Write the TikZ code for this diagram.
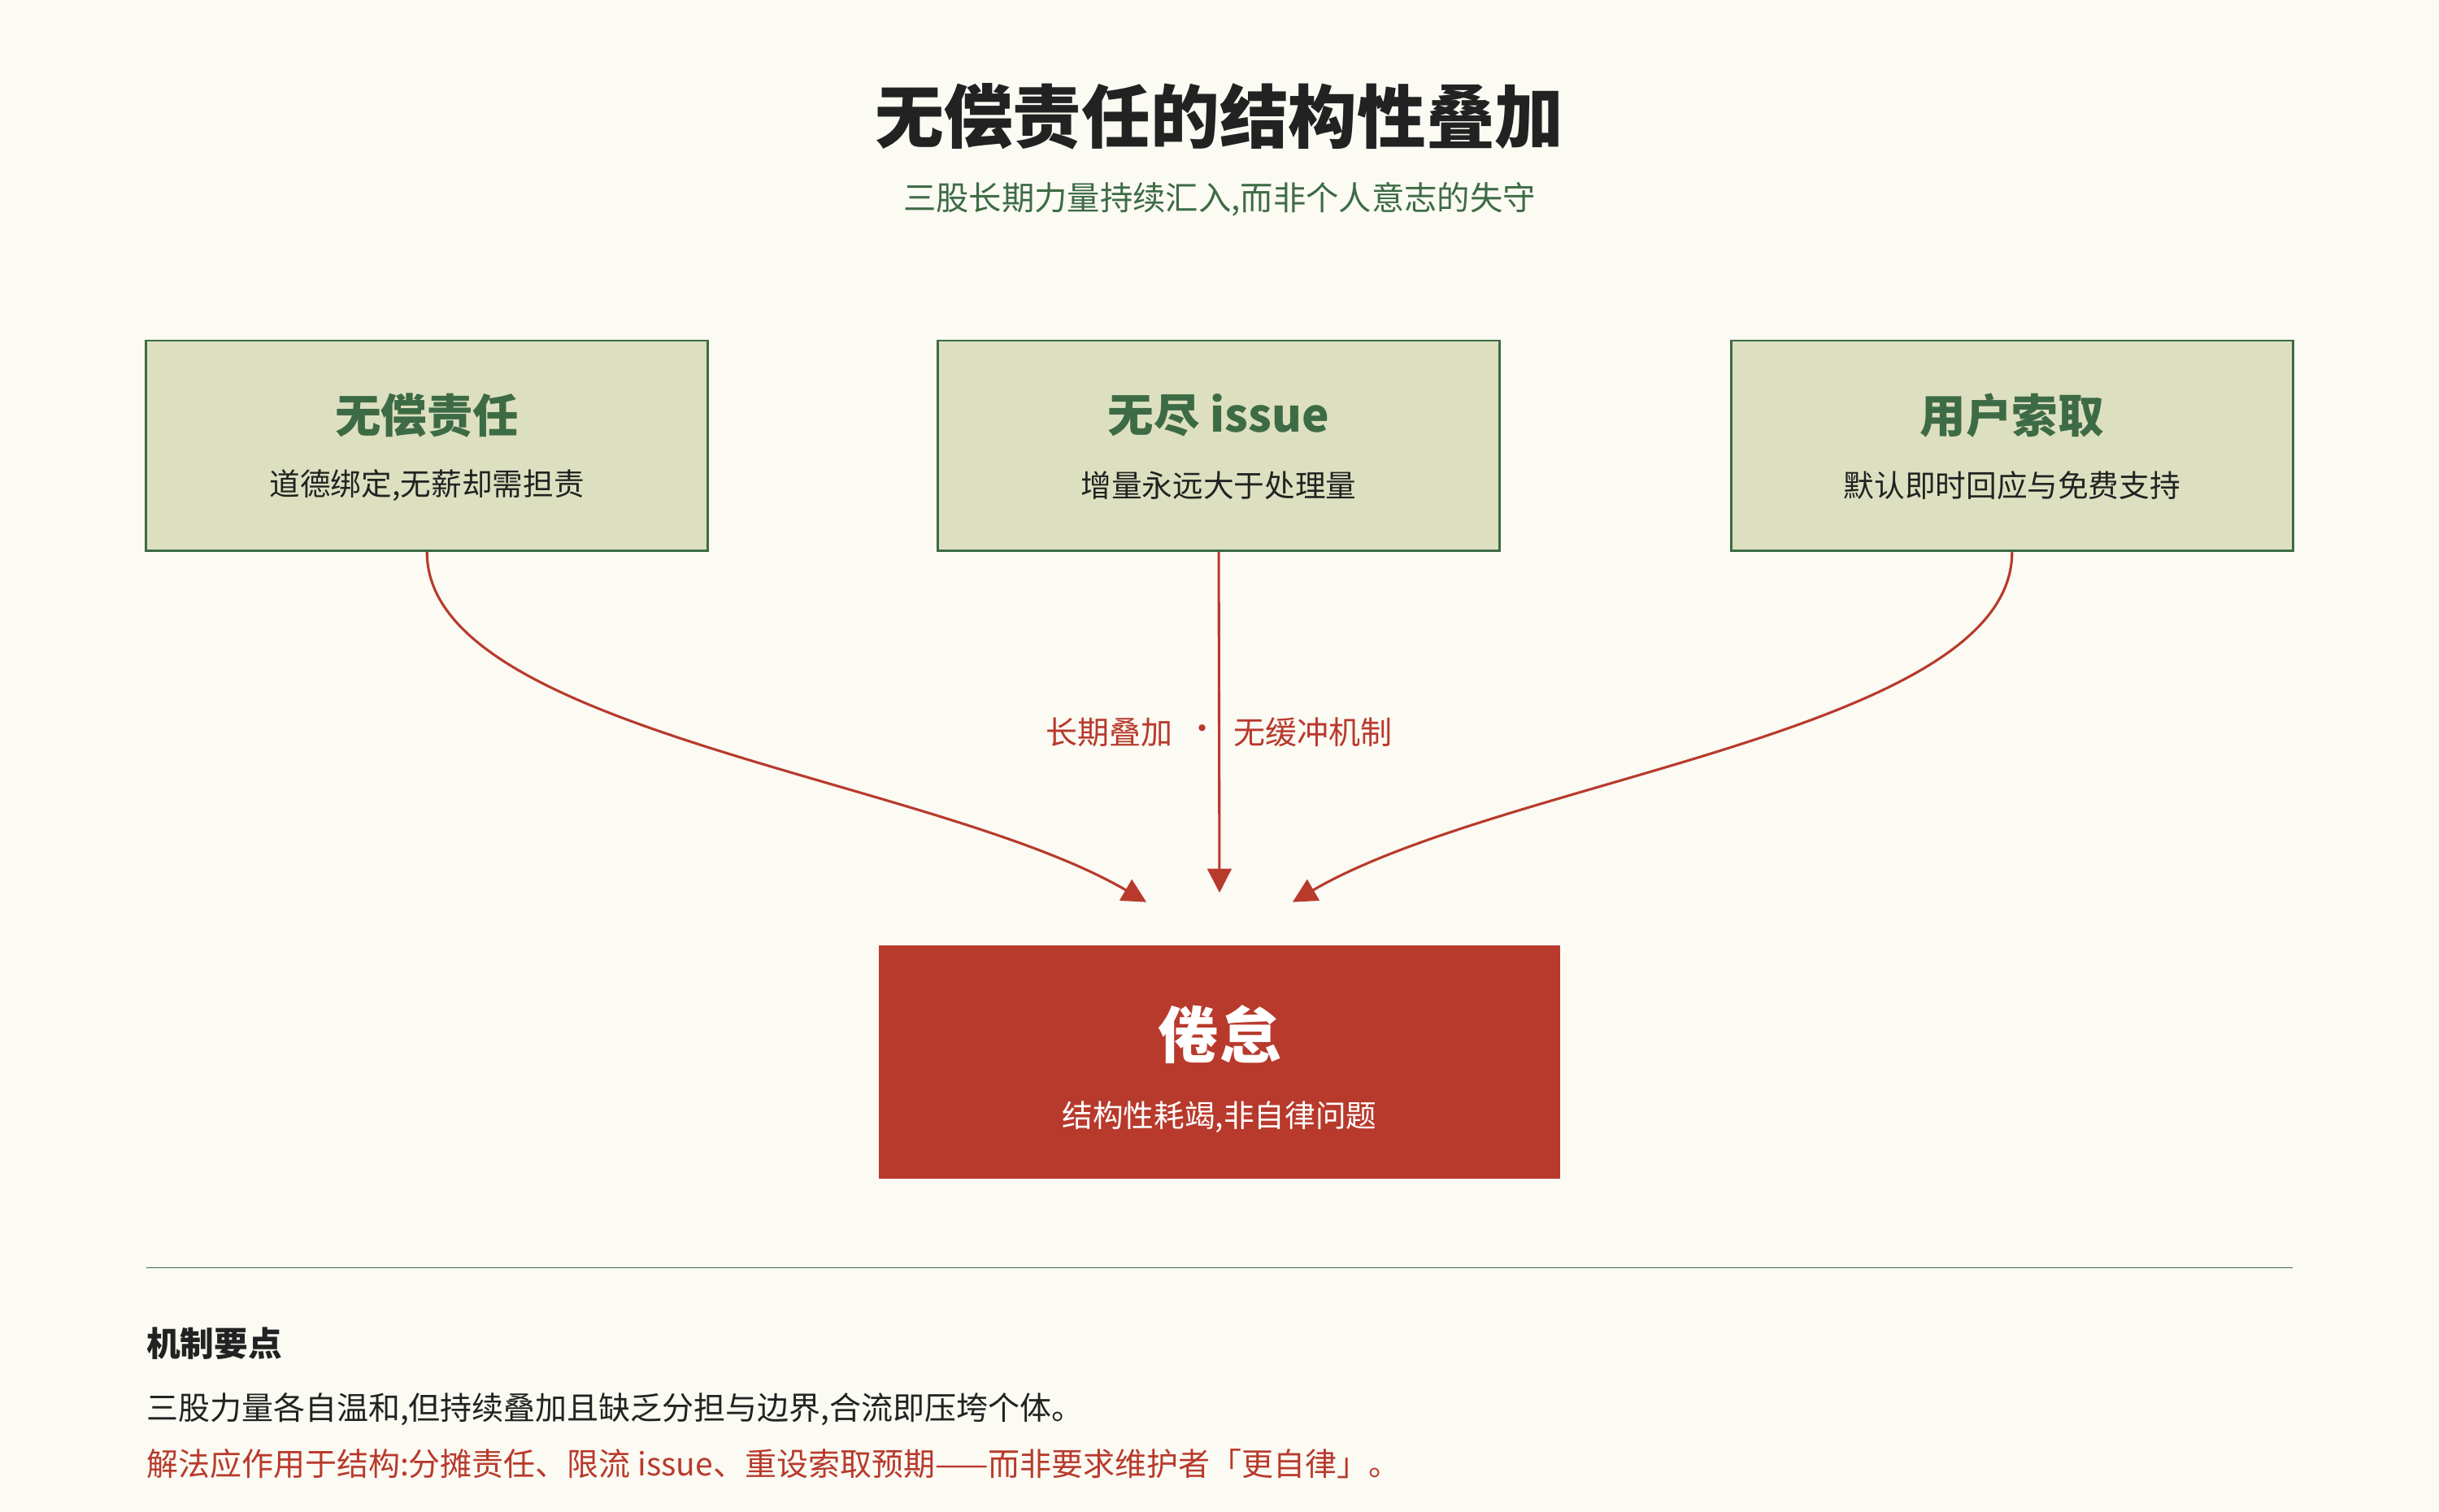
\documentclass[tikz,border=0pt]{standalone}
\usepackage{fontspec}
\setmainfont{Noto Sans CJK SC}
\usetikzlibrary{arrows.meta}
\definecolor{bg}{HTML}{FBFAF3}
\definecolor{gr}{HTML}{3D6B45}
\definecolor{boxf}{HTML}{DDE0C0}
\definecolor{rd}{HTML}{B83A2C}
\definecolor{dk}{HTML}{222222}
\newcommand{\fs}[1]{\fontsize{#1}{#1}\selectfont}
\begin{document}
\begin{tikzpicture}[x=0.5mm,y=-0.5mm,
  src/.style={draw=gr,line width=2.2pt,fill=boxf,minimum width=361*0.5mm,minimum height=135*0.5mm,inner sep=0},
  arr/.style={draw=rd,line width=2.3pt,-{Triangle[length=22pt,width=22pt]}}]
\fill[bg] (0,0) rectangle (1568,972);
\useasboundingbox (0,0) rectangle (1568,972);
\node[text=dk] (t) at (784,75) {\fs{63}\bfseries 无偿责任的结构性叠加};
\node[text=gr] (st) at (784,128) {\fs{30}三股长期力量持续汇入,而非个人意志的失守};
\node[src] (a) at (274.5,286.5) {};
\node[src] (b) at (783.5,286.5) {};
\node[src] (c) at (1293.5,286.5) {};
\foreach \n/\x/\ta/\tb in {a/274.5/{无偿责任}/{道德绑定,无薪却需担责}, b/783.5/{无尽 issue}/{增量永远大于处理量}, c/1293.5/{用户索取}/{默认即时回应与免费支持}}{
  \node[text=gr] (\n1) at (\x,267) {\fs{42}\bfseries \ta};
  \node[text=dk] (\n2) at (\x,312) {\fs{28}\tb};
}
\node[fill=rd,minimum width=438*0.5mm,minimum height=150*0.5mm,inner sep=0] (r) at (784,683) {};
\node[text=white] (r1) at (784,665) {\fs{56}\bfseries 倦怠};
\node[text=white] (r2) at (784,718) {\fs{28}结构性耗竭,非自律问题};
\coordinate (ae) at (737,580);
\coordinate (be) at (784,574);
\coordinate (ce) at (831,580);
\draw[arr] (a.south) .. controls (274,470) and (600,500) .. (ae);
\draw[arr] (b.south) -- (be);
\draw[arr] (c.south) .. controls (1294,470) and (968,500) .. (ce);
\node[text=rd] (l1) at (713,471) {\fs{29}长期叠加};
\node[text=rd] (l2) at (773,471) {\fs{29}·};
\node[text=rd] (l3) at (844,471) {\fs{29}无缓冲机制};
\coordinate (h1) at (94,815); \coordinate (h2) at (1474,815);
\draw[gr,line width=1.2pt] (h1) -- (h2);
\node[text=dk,anchor=west,inner sep=0] (m0) at (94,864) {\fs{31}\bfseries 机制要点};
\node[text=dk,anchor=west,inner sep=0] (m1) at (94,906) {\fs{29}三股力量各自温和,但持续叠加且缺乏分担与边界,合流即压垮个体。};
\node[text=rd,anchor=west,inner sep=0] (m2) at (94,941) {\fs{29}解法应作用于结构:分摊责任、限流 issue、重设索取预期——而非要求维护者「更自律」。};
\end{tikzpicture}
\end{document}
